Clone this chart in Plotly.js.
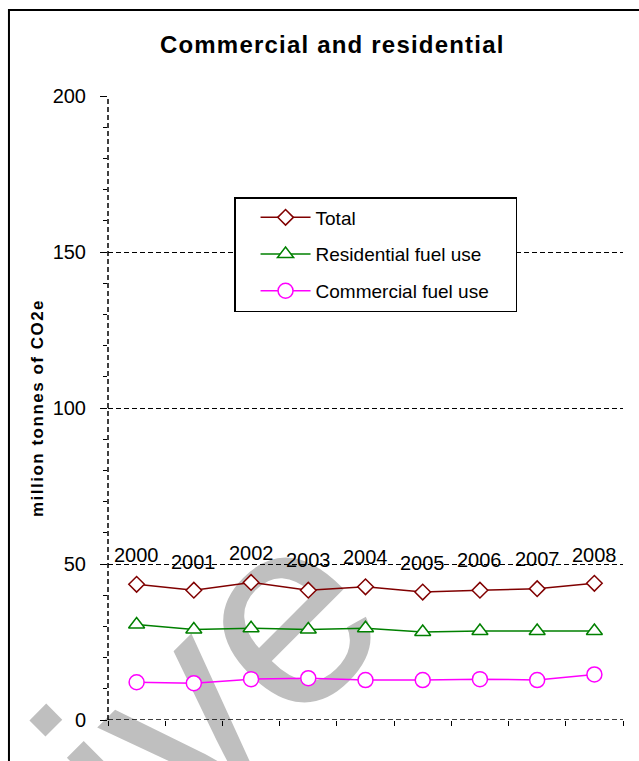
<!DOCTYPE html>
<html>
<head>
<meta charset="utf-8">
<script src="https://cdn.plot.ly/plotly-3.0.1.min.js"></script>
<style>
  html, body { margin: 0; padding: 0; background: #ffffff; }
  #wrap { position: relative; width: 639px; height: 761px; overflow: hidden; }
  #stamp {
    position: absolute; left: 15px; top: 880px;
    transform: translate(-50%, -50%) rotate(-45deg);
    font-family: "Liberation Sans", Arial, sans-serif;
    font-size: 270px; line-height: 1; white-space: nowrap;
    color: #bfbfbf; z-index: 0;
  }
  #chart { position: absolute; left: 0; top: 0; width: 639px; height: 761px; z-index: 1; }
  #chart .gtitle { letter-spacing: 1.2px; }
  #chart .ytitle { letter-spacing: 1.5px; }
</style>
</head>
<body>
<div id="wrap">
  <div id="stamp">Archive</div>
  <div id="chart"></div>
</div>
<script>
// Emissions by year, million tonnes of CO2e
const years = ['2000', '2001', '2002', '2003', '2004', '2005', '2006', '2007', '2008'];
const total = [43.5, 41.6, 44.1, 41.6, 42.7, 41.0, 41.6, 42.1, 43.8];
const residential = [30.6, 29.0, 29.4, 29.0, 29.4, 28.2, 28.5, 28.5, 28.5];
const commercial = [12.1, 11.8, 13.1, 13.4, 12.8, 12.8, 13.1, 12.8, 14.6];

// Height at which each year's category label sits (staggered)
const yearLabelY = [52.9, 50.7, 53.5, 51.2, 52.3, 50.4, 51.2, 51.6, 52.9];

const FONT = 'Liberation Sans, Arial, sans-serif';

function series(name, y, color, symbol, size) {
  return {
    type: 'scatter', mode: 'lines+markers', name: name, legendgroup: name,
    x: years, y: y,
    line: { color: color, width: 1.5 },
    marker: { symbol: symbol, size: size, color: '#ffffff', line: { color: color, width: 1.5 } },
    cliponaxis: false
  };
}

const traces = [
  series('Total', total, '#800000', 'diamond', 12),
  series('Residential fuel use', residential, '#008000', 'triangle-up', 14),
  series('Commercial fuel use\u00a0\u00a0\u00a0\u00a0', commercial, '#ff00ff', 'circle', 15)
];

// category labels, placed by category index
const yearLabels = years.map((yr, i) => ({
  x: i, y: yearLabelY[i], xref: 'x', yref: 'y', text: yr, showarrow: false,
  xanchor: 'center', yanchor: 'middle', font: { family: FONT, size: 20, color: '#000000' }
}));

const layout = {
  width: 639, height: 761,
  margin: { l: 108, r: 16, t: 96, b: 41 },
  paper_bgcolor: 'rgba(0,0,0,0)', plot_bgcolor: 'rgba(0,0,0,0)',
  font: { family: FONT, color: '#000000' },
  showlegend: true,
  title: {
    text: '<b>Commercial and residential</b>',
    font: { family: FONT, size: 24, color: '#000000' },
    xref: 'container', yref: 'container', x: 0.52, y: 1 - 45 / 761,
    xanchor: 'center', yanchor: 'middle'
  },
  xaxis: {
    type: 'category', range: [-0.5, 8.5], fixedrange: true,
    showgrid: false, zeroline: false, showline: false,
    ticks: 'outside', tickson: 'boundaries', ticklen: 5, tickwidth: 1, tickcolor: '#000000',
    showticklabels: false
  },
  yaxis: {
    range: [0, 200], dtick: 50, tick0: 0, fixedrange: true,
    showgrid: true, gridcolor: '#000000', gridwidth: 1, griddash: '5px,3px',
    zeroline: false, showline: false,
    ticks: 'outside', ticklen: 7, tickwidth: 1, tickcolor: '#000000',
    ticklabelstandoff: 10,
    minor: { dtick: 10, ticks: 'outside', ticklen: 4, tickwidth: 1, tickcolor: '#000000', showgrid: false },
    tickfont: { family: FONT, size: 20, color: '#000000' },
    title: { text: '<b>million tonnes of CO2e</b>', font: { family: FONT, size: 17, color: '#000000' }, standoff: 4 }
  },
  legend: {
    x: (234 - 108) / 514.8, y: (720 - 197) / 624, xanchor: 'left', yanchor: 'top',
    bgcolor: '#ffffff', bordercolor: '#000000', borderwidth: 1.5,
    font: { family: FONT, size: 19, color: '#000000' },
    tracegroupgap: 9, itemwidth: 50, indentation: 20
  },
  annotations: yearLabels,
  shapes: [
    // dashed value axis
    { type: 'line', xref: 'paper', yref: 'y', x0: 0, x1: 0, y0: 0, y1: 200,
      line: { color: '#000000', width: 1.5, dash: '5px,3px' } },
    // dashed category axis
    { type: 'line', xref: 'paper', yref: 'y', x0: 0, x1: 1, y0: 0, y1: 0,
      line: { color: '#000000', width: 1.5, dash: '5px,3px' } },
    // chart frame
    { type: 'rect', xref: 'paper', yref: 'paper',
      x0: (9 - 108) / 514.8, x1: 1.2, y0: -0.3, y1: (720 - 10) / 624,
      line: { color: '#000000', width: 2 }, fillcolor: 'rgba(0,0,0,0)' }
  ]
};

Plotly.newPlot('chart', traces, layout, { displayModeBar: false, staticPlot: true });
</script>
</body>
</html>
